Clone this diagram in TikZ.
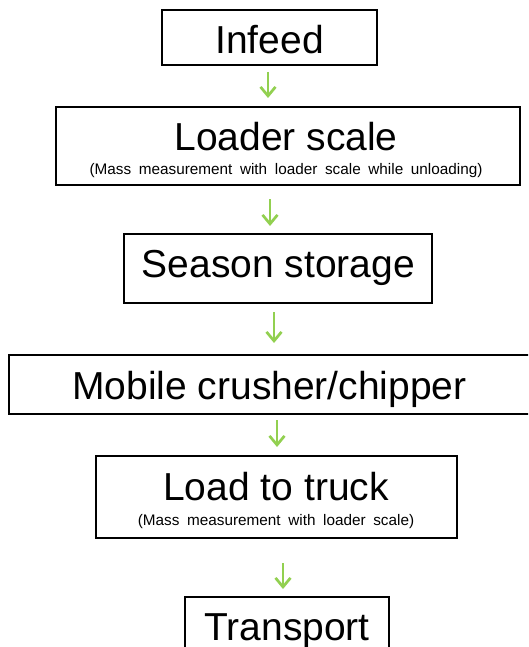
\documentclass[tikz,border=0pt]{standalone}
\usepackage{fontspec}
\setmainfont{Liberation Sans}
\usetikzlibrary{arrows.meta}
\definecolor{arrowgreen}{HTML}{92D050}
\newcommand{\widesp}{\spaceskip=0.5em plus 0.1em\relax}
\tikzset{
  box/.style={draw=black, line width=2pt, rectangle, inner sep=0pt},
  title/.style={anchor=base, inner sep=0pt, font=\fontsize{39}{41}\selectfont},
  sub/.style={anchor=base, inner sep=0pt, font=\fontsize{15.3}{17}\selectfont},
  flow/.style={draw=arrowgreen, line width=2.7pt, -{Straight Barb[length=9pt,width=15pt]}}
}
\begin{document}
\begin{tikzpicture}[x=1pt,y=-1pt]
\useasboundingbox (0,0) rectangle (528,647);
\clip (0,0) rectangle (528,647);
% boxes
\node[box, minimum width=215pt, minimum height=55pt] (infeed) at (269.5,37.5) {};
\node[box, minimum width=464pt, minimum height=78pt] (loader) at (288,146) {};
\node[box, minimum width=308pt, minimum height=69pt] (season) at (278,268.5) {};
\node[box, minimum width=521pt, minimum height=59pt] (mobile) at (269.5,384.5) {};
\node[box, minimum width=361pt, minimum height=82pt] (truck) at (276.5,497) {};
\node[box, minimum width=204pt, minimum height=62pt] (transport) at (287,628) {};
% texts
\node[title] (tInfeed) at (269.5,54) {Infeed};
\node[title] (tLoader) at (286,150) {Loader scale};
\node[sub] (sLoader) at (286,175) {\widesp(Mass measurement with loader scale while unloading)};
\node[title] (tSeason) at (278.5,277) {Season storage};
\node[title] (tMobile) at (269.5,399) {Mobile crusher/chipper};
\node[title] (tTruck) at (276,500) {Load to truck};
\node[sub] (sTruck) at (276,525) {\widesp(Mass measurement with loader scale)};
\node[title] (tTransport) at (287,640) {Transport};
% arrow end points
\coordinate (a1s) at (268,72);  \coordinate (a1e) at (268,98);
\coordinate (a2s) at (270,199); \coordinate (a2e) at (270,226);
\coordinate (a3s) at (274,312); \coordinate (a3e) at (274,343);
\coordinate (a4s) at (277,420); \coordinate (a4e) at (277,447);
\coordinate (a5s) at (283,563); \coordinate (a5e) at (283,589);
\draw[flow] (a1s) -- (a1e);
\draw[flow] (a2s) -- (a2e);
\draw[flow] (a3s) -- (a3e);
\draw[flow] (a4s) -- (a4e);
\draw[flow] (a5s) -- (a5e);
\end{tikzpicture}
\end{document}
